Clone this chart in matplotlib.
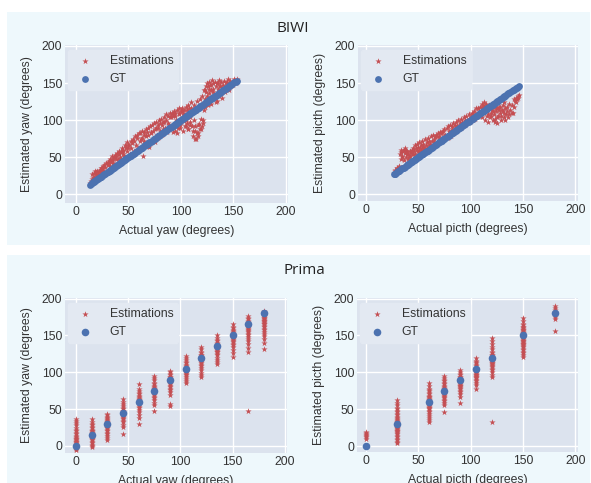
import matplotlib
matplotlib.use("Agg")
import matplotlib.pyplot as plt
from matplotlib.patches import Rectangle

# ---- BIWI yaw: actual angle / estimated angle pairs ----
biwi_yaw_actual = [
    13, 14, 15, 15.5, 16, 17, 17.5, 18, 19, 19.5, 20, 21, 21.5, 22, 23, 23.5, 24, 25, 25.5, 26, 27, 28, 29, 30,
    30.5, 31, 32, 32.5, 33, 34, 34.5, 35, 36, 36.5, 37, 38, 38.5, 39, 40, 40.5, 41, 42, 42.5, 43, 44, 44.5,
    45, 46, 46.5, 47, 48, 48.5, 49, 50, 50.5, 51, 52, 52.5, 53, 54, 55, 56, 57, 58, 59, 60,
    60.5, 61, 62, 62.5, 63, 64, 64.5, 65, 66, 66.5, 67, 68, 68.5, 69, 70, 70.5, 71, 72, 72.5, 73, 74, 74.5,
    75, 76, 76.5, 77, 78, 78.5, 79, 80, 80.5, 81, 82, 82.5, 83, 84, 85, 86, 87, 88, 89, 90,
    90.5, 91, 92, 92.5, 93, 94, 94.5, 95, 96, 96.5, 97, 98, 98.5, 99, 100, 100.5, 101, 102, 102.5, 103, 104,
    104.5, 105, 106, 106.5, 107, 108, 108.5, 109, 110, 110.5, 111, 112, 112.5, 113, 114, 114.5, 115, 116,
    116.5, 117, 118, 118.5, 119, 120, 121, 122,
    122.5, 123, 124, 124.5, 125, 126, 126.5, 127, 128, 128.5, 129, 130, 130.5, 131, 132, 132.5, 133, 134,
    134.5, 135, 136, 136.5, 137, 138, 138.5, 139, 140, 140.5, 141, 142, 142.5, 143, 144, 144.5, 145, 146,
    147, 148, 149, 150, 151, 152, 153,
]
biwi_yaw_est = [
    15, 18, 28, 20, 22, 29, 24, 31, 26, 30, 32, 28, 31, 30, 33, 36, 31, 35, 38, 33, 39, 37, 42, 44,
    40, 45, 38, 48, 43, 46, 51, 42, 50, 40, 53, 47, 52, 56, 48, 55, 58, 50, 57, 47, 62, 54,
    60, 52, 66, 50, 64, 58, 70, 62, 67, 54, 72, 62, 69, 75, 58, 78, 66, 80, 62, 82,
    72, 82, 62, 76, 86, 52, 72, 84, 66, 88, 78, 68, 90, 80, 64, 92, 84, 72, 94, 86, 74, 96,
    70, 90, 98, 80, 94, 76, 100, 86, 96, 102, 80, 98, 88, 104, 90, 108, 84, 106, 94, 110,
    104, 110, 84, 106, 112, 86, 110, 100, 82, 114, 96, 108, 116, 90, 112, 98, 116, 86, 108, 114, 92,
    118, 100, 96, 120, 88, 116, 104, 94, 124, 92, 78, 120, 100, 86, 112, 74, 126, 94,
    82, 118, 88, 128, 102, 132, 96, 114,
    140, 118, 146, 128, 150, 120, 142, 152, 130, 148, 122, 154, 138, 150, 130, 152, 124, 126,
    150, 142, 132, 154, 146, 136, 152, 130, 148, 140, 153, 138, 150, 142, 152, 144, 155, 140,
    153, 146, 152, 148, 155, 150, 156,
]
# further estimations read from the denser parts of the cloud
biwi_yaw_actual_more = [
    25, 30, 35, 40, 45, 48, 50, 55, 58, 62, 65, 68, 71, 75, 78, 82, 84, 86, 88, 90, 92, 94, 95, 97, 98,
    99, 101, 102, 103, 105, 106, 107, 109, 110, 111, 113, 113, 115, 116, 117, 119, 120, 121, 122, 123,
    124, 125, 126, 127, 128, 129, 131, 133, 135, 137,
]
biwi_yaw_est_more = [
    36, 42, 48, 54, 58, 62, 66, 72, 76, 74, 80, 84, 82, 88, 90, 94, 98, 100, 96, 104, 108, 106, 92, 90, 110,
    94, 112, 108, 99, 92, 114, 88, 98, 116, 86, 92, 74, 82, 78, 95, 88, 92, 100, 140, 128,
    138, 132, 146, 136, 148, 140, 142, 146, 150, 146,
]

# ---- BIWI pitch ----
biwi_pitch_actual = [
    27, 27.5, 28, 29, 29.5, 30, 31, 31.5, 32, 33, 33.5, 34, 35, 35.5, 36, 37, 37.5, 38, 39, 39.5, 40,
    40.5, 41, 42, 42.5, 43, 44, 44.5, 45, 46, 46.5, 47, 48, 48.5, 49, 50, 50.5, 51, 52, 52.5, 53, 54,
    54.5, 55, 56, 56.5, 57, 58, 58.5, 59, 60, 61, 62, 63, 64, 65, 66, 67, 68, 69, 70, 71, 72,
    72.5, 73, 74, 74.5, 75, 76, 77, 78, 78.5, 79, 80, 81, 82, 82.5, 83, 84, 85, 86, 86.5, 87, 88, 89,
    90, 90.5, 91, 92, 93, 94, 94.5, 95, 96, 97, 98, 98.5, 99, 100, 101, 102, 102.5, 103, 104, 105,
    106, 107, 108, 109, 110,
    110.5, 111, 112, 112.5, 113, 114, 115, 115.5, 116, 117, 118, 118.5, 119, 120, 121, 121.5, 122, 123,
    124, 125, 125.5, 126, 127, 128, 129, 130, 131, 131.5, 132, 133, 134, 135, 136, 137, 138, 139, 140,
    141, 142, 143, 144, 145, 146,
]
biwi_pitch_est = [
    29, 31, 33, 32, 36, 35, 34, 38, 37, 55, 48, 60, 52, 58, 46, 56, 62, 50, 54, 59, 48,
    54, 50, 58, 52, 57, 60, 54, 63, 58, 66, 55, 62, 68, 60, 64, 57, 70, 62, 66, 60, 72,
    64, 68, 62, 74, 66, 70, 63, 76, 72, 68, 78, 72, 80, 75, 77, 80, 78, 82, 79, 84, 82,
    84, 74, 86, 78, 88, 80, 90, 76, 92, 86, 94, 78, 92, 88, 96, 82, 94, 98, 86, 92, 100, 88,
    96, 102, 90, 98, 92, 104, 100, 94, 106, 96, 102, 108, 98, 104, 110, 100, 108, 112, 102, 116,
    104, 116, 106, 118, 112,
    122, 104, 118, 110, 124, 100, 116, 106, 112, 98, 120, 104, 110, 114, 100, 118, 108, 102,
    112, 116, 96, 106, 118, 110, 100, 114, 120, 104, 110, 116, 108, 112, 104, 122, 114, 110, 109,
    118, 126, 130, 128, 132, 134,
]
biwi_pitch_actual_more = [
    34, 35, 36, 38, 45, 50, 55, 60, 65, 70, 80, 85, 90, 95, 100, 105, 108, 111, 113, 115, 117, 119, 121,
    123, 124, 125, 127, 128, 129, 131, 132, 133, 135, 137, 139, 141, 143, 145,
]
biwi_pitch_est_more = [
    57, 50, 60, 58, 54, 58, 62, 66, 70, 74, 84, 89, 94, 99, 104, 108, 112, 116, 119, 122, 108, 105, 112,
    98, 116, 104, 114, 118, 106, 112, 124, 100, 118, 108, 120, 128, 124, 130,
]

# ---- Prima yaw: estimations per ground-truth angle ----
prima_yaw_angles = [0, 15, 30, 45, 60, 75, 90, 105, 120, 135, 150, 165, 180]
prima_yaw_est = [
    [-6, -4, -3, -2, -1, 0, 1, 2, 3, 4, 5, 6, 7, 8, 9, 10, 11, 12, 14, 16, 18, 20, 22, 25, 28, 31, 34, 37],
    [-2, 0, 2, 4, 6, 8, 9, 10, 11, 12, 13, 14, 15, 16, 17, 18, 19, 20, 21, 22, 24, 26, 28, 30, 33, 36],
    [8, 11, 14, 16, 18, 20, 22, 24, 25, 26, 27, 28, 29, 30, 31, 32, 33, 34, 35, 36, 38, 40, 42, 44],
    [16, 26, 29, 32, 34, 36, 38, 40, 41, 42, 43, 44, 45, 46, 47, 48, 50, 52, 54, 57, 60, 64],
    [30, 38, 42, 46, 49, 51, 53, 55, 57, 58, 59, 60, 61, 62, 63, 64, 65, 66, 68, 70, 72, 75, 78, 84],
    [47, 56, 59, 62, 65, 67, 69, 71, 72, 73, 74, 75, 76, 77, 78, 79, 80, 82, 84, 86, 89, 92, 95],
    [54, 57, 69, 73, 76, 78, 80, 82, 84, 85, 86, 87, 88, 89, 90, 91, 92, 93, 94, 96, 98, 100, 102],
    [85, 88, 91, 94, 96, 98, 99, 100, 101, 102, 103, 104, 105, 106, 107, 108, 110, 112, 114, 117, 120, 122],
    [94, 96, 99, 103, 106, 108, 110, 112, 114, 115, 116, 117, 118, 119, 120, 121, 122, 123, 124, 126, 128,
     131, 134],
    [111, 114, 117, 120, 123, 125, 127, 128, 129, 130, 131, 132, 133, 134, 135, 136, 137, 138, 140, 142,
     144, 147, 151],
    [121, 126, 130, 134, 137, 139, 141, 143, 144, 145, 146, 147, 148, 149, 150, 151, 152, 153, 154, 156,
     158, 160, 162, 165],
    [47, 128, 133, 138, 142, 145, 148, 150, 152, 154, 156, 158, 159, 160, 161, 162, 163, 164, 165, 166,
     167, 168, 170, 172, 174, 176],
    [132, 140, 145, 149, 152, 155, 157, 159, 161, 163, 165, 166, 167, 168, 169, 170, 171, 172, 173, 174,
     175, 176, 177, 178, 179, 180, 182, 183],
]

# ---- Prima pitch ----
prima_pitch_angles = [0, 30, 60, 75, 90, 105, 120, 150, 180]
prima_pitch_est = [
    [10, 12, 13, 15, 16, 17, 19],
    [4, 6, 8, 10, 12, 14, 16, 18, 19, 20, 21, 22, 23, 24, 25, 26, 27, 28, 29, 30, 31, 32, 33, 34, 35, 36,
     38, 40, 42, 44, 46, 48, 50, 52, 55, 58, 62],
    [32, 35, 38, 41, 44, 46, 48, 50, 51, 52, 53, 54, 55, 56, 57, 58, 59, 60, 61, 62, 63, 64, 65, 66, 67,
     68, 70, 72, 74, 76, 78, 81, 85],
    [46, 55, 58, 61, 63, 65, 67, 68, 69, 70, 71, 72, 73, 74, 75, 76, 77, 78, 79, 80, 82, 84, 86, 88, 90,
     92, 95],
    [59, 67, 70, 73, 75, 77, 79, 80, 81, 82, 83, 84, 85, 86, 87, 88, 89, 90, 91, 92, 93, 94, 96, 98, 100,
     103],
    [78, 83, 86, 88, 90, 92, 93, 94, 95, 96, 97, 98, 99, 100, 101, 102, 103, 104, 106, 108, 110, 112, 114,
     116, 120],
    [33, 94, 97, 100, 103, 105, 107, 109, 110, 111, 112, 113, 114, 115, 116, 117, 118, 119, 120, 121, 122,
     123, 124, 126, 128, 131, 134, 138, 142, 146],
    [121, 124, 126, 128, 130, 132, 134, 136, 137, 138, 139, 140, 141, 142, 143, 144, 145, 146, 147, 148,
     149, 150, 151, 152, 153, 154, 155, 156, 157, 158, 159, 160, 161, 162, 164, 166, 170, 174],
    [156, 172, 175, 178, 182, 184, 187, 190],
]

ticks = [0, 50, 100, 150, 200]
RED = "#C44E52"
BLUE = "#4C72B0"
W, H = 591, 483

plt.rcParams["font.family"] = ["Liberation Sans", "DejaVu Sans"]
plt.rcParams["font.size"] = 8.8


def flatten(angles, groups):
    xs, ys = [], []
    for a, g in zip(angles, groups):
        xs += [a] * len(g)
        ys += g
    return xs, ys


def make_axes(fig, left, right, top, bottom):
    return fig.add_axes([left / W, 1 - bottom / H, (right - left) / W, (bottom - top) / H])


def draw(ax, x_est, y_est, gt, xlim, ylim, xlab, ylab, star_size, gt_size):
    ax.set_facecolor("#DCE3EE")
    ax.scatter(x_est, y_est, marker="*", s=star_size, color=RED, linewidths=0, label="Estimations",
               zorder=2)
    ax.scatter(gt, gt, marker="o", s=gt_size, color=BLUE, linewidths=0, label="GT", zorder=3)
    ax.set_xlim(*xlim)
    ax.set_ylim(*ylim)
    ax.set_xticks(ticks)
    ax.set_yticks(ticks)
    ax.grid(color="white", linewidth=1.0, zorder=0)
    ax.set_axisbelow(True)
    for s in ax.spines.values():
        s.set_visible(False)
    ax.tick_params(length=0, pad=2, labelcolor="#333333", labelsize=8.8)
    ax.set_xlabel(xlab, color="#333333", labelpad=5)
    ax.set_ylabel(ylab, color="#333333", labelpad=6)
    leg = ax.legend(loc="upper left", bbox_to_anchor=(3 / 223, 1 - 5 / 158), borderaxespad=0,
                    scatterpoints=1, handletextpad=1.0, facecolor="#E3E9F2", edgecolor="#E3E9F2",
                    framealpha=1, fancybox=True)
    for t in leg.get_texts():
        t.set_color("#333333")


fig = plt.figure(figsize=(W / 100, H / 100), dpi=100)
fig.patch.set_facecolor("white")
panel_color = "#EEF8FC"
fig.patches.append(Rectangle((7 / W, 1 - 245 / H), 583 / W, 233 / H, transform=fig.transFigure,
                             facecolor=panel_color, edgecolor="none", zorder=-10))
fig.patches.append(Rectangle((7 / W, 0), 583 / W, (483 - 255) / H, transform=fig.transFigure,
                             facecolor=panel_color, edgecolor="none", zorder=-10))
fig.text(293 / W, 1 - 28 / H, "BIWI", ha="center", va="center", fontsize=11,
         family=["Open Sans", "DejaVu Sans"], color="#222222")
fig.text(304 / W, 1 - 270 / H, "Prima", ha="center", va="center", fontsize=11,
         family=["Open Sans", "DejaVu Sans"], color="#222222")

ax1 = make_axes(fig, 65, 288, 45, 203)
draw(ax1, biwi_yaw_actual + biwi_yaw_actual_more, biwi_yaw_est + biwi_yaw_est_more, biwi_yaw_actual,
     (-10.5, 202), (-11.7, 201.3), "Actual yaw (degrees)", "Estimated yaw (degrees)", 22, 24)

ax2 = make_axes(fig, 358, 578, 45, 201)
draw(ax2, biwi_pitch_actual + biwi_pitch_actual_more, biwi_pitch_est + biwi_pitch_est_more,
     biwi_pitch_actual, (-7.4, 202.4), (-9, 201.3),
     "Actual picth (degrees)", "Estimated picth (degrees)", 22, 24)

px, py = flatten(prima_yaw_angles, prima_yaw_est)
ax3 = make_axes(fig, 65, 287, 298, 453)
draw(ax3, px, py, prima_yaw_angles, (-10.5, 202), (-9.5, 200.8),
     "Actual yaw (degrees)", "Estimated yaw (degrees)", 22, 30)

px, py = flatten(prima_pitch_angles, prima_pitch_est)
ax4 = make_axes(fig, 357, 578, 298, 452)
draw(ax4, px, py, prima_pitch_angles, (-8.3, 202.4), (-8.1, 200.8),
     "Actual picth (degrees)", "Estimated picth (degrees)", 22, 30)

fig.savefig("out.png", dpi=100, facecolor="white")
